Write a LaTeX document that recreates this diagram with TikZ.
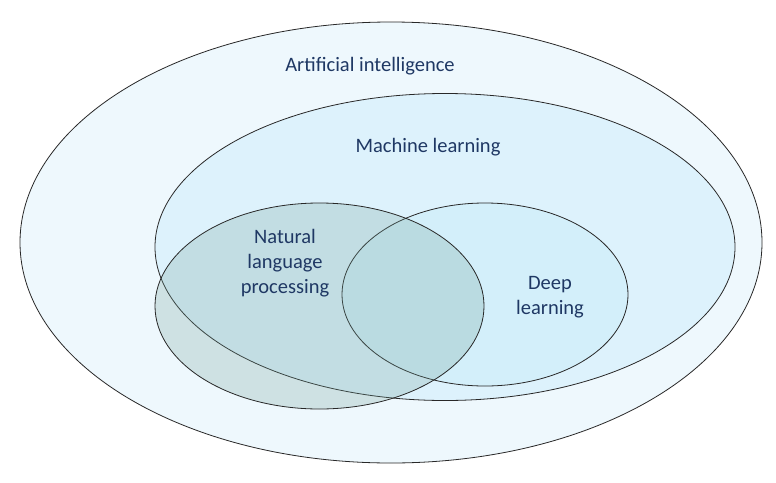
\documentclass[tikz,border=0pt]{standalone}
\usepackage{fontspec}
\setmainfont{Carlito}
\definecolor{aifill}{RGB}{238,248,253}
\definecolor{mlfill}{RGB}{221,242,252}
\definecolor{dlfill}{RGB}{211,239,250}
\definecolor{nlpfill}{RGB}{114,160,153}
\definecolor{txt}{RGB}{31,56,100}
\definecolor{edge}{RGB}{40,40,40}
\begin{document}
\begin{tikzpicture}[x=1pt,y=-1pt,
  setshape/.style={draw=edge,line width=0.8pt},
  lbl/.style={text=txt,font=\fontsize{20.5}{25}\selectfont,align=center,inner sep=0pt}]
\useasboundingbox (0,0) rectangle (776,482);
\fill[white] (0,0) rectangle (776,482);
\draw[setshape,fill=aifill] (391,242.5) ellipse [x radius=371,y radius=220.5];
\draw[setshape,fill=mlfill] (445,247) ellipse [x radius=290,y radius=153.5];
\draw[setshape,fill=dlfill] (485,294.5) ellipse [x radius=143,y radius=91.5];
\draw[setshape,fill=nlpfill,fill opacity=0.25] (319.5,306) ellipse [x radius=164.5,y radius=103];
\node[lbl] (ai) at (370,66) {Artificial intelligence};
\node[lbl] (ml) at (428,147) {Machine learning};
\node[lbl] (nlp) at (285,263) {Natural\\language\\processing};
\node[lbl] (dl) at (550,297) {Deep\\learning};
\end{tikzpicture}
\end{document}
